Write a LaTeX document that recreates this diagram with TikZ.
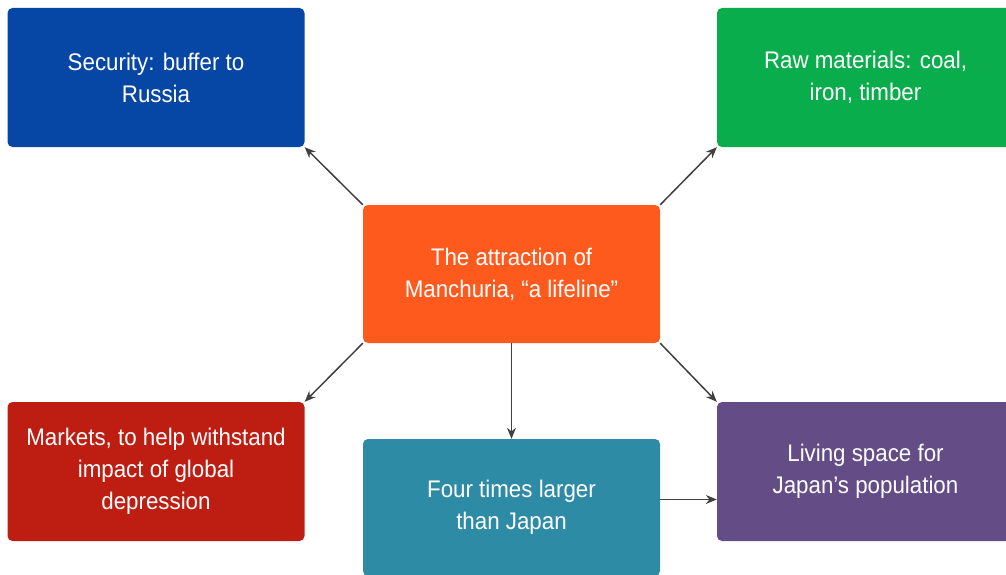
\documentclass[tikz,border=0pt]{standalone}
\usepackage{fontspec}
\setmainfont{Liberation Sans}[FakeStretch=0.93]
\usetikzlibrary{arrows.meta}

\begin{document}
\begin{tikzpicture}[x=1pt,y=-1pt,
  topic/.style={rounded corners=5pt,minimum width=297pt,minimum height=139pt,
    align=center,text=white,font=\fontsize{24}{32}\selectfont},
  link/.style={draw=linkgray,line width=1.5pt,-{Stealth[length=11pt,width=9pt]}}]
% Define topic colours
\definecolor{security}{RGB}{6,70,165}
\definecolor{material}{RGB}{9,173,76}
\definecolor{centre}{RGB}{255,90,30}
\definecolor{market}{RGB}{190,30,18}
\definecolor{size}{RGB}{46,139,165}
\definecolor{living}{RGB}{100,77,135}
\definecolor{linkgray}{RGB}{64,64,64}

\useasboundingbox (0,0) rectangle (1006,575);

% Draw topics
\node[topic,fill=centre,minimum height=138pt] (attract) at (511.5,274) {The attraction of\\Manchuria, ``a lifeline''};
\node[topic,fill=security] (buffer) at (156,77.5) {Security: buffer to\\Russia};
\node[topic,fill=material] (raw) at (865.5,77.5) {Raw materials: coal,\\iron, timber};
\node[topic,fill=market] (markets) at (156,471.5) {Markets, to help withstand\\impact of global\\depression};
\node[topic,fill=size,minimum height=137pt] (larger) at (511.5,507.5) {Four times larger\\than Japan};
\node[topic,fill=living] (space) at (865.5,471.5) {Living space for\\Japan's population};

% Draw links
\draw[link] (attract.north west) -- (buffer.south east);
\draw[link] (attract.north east) -- (raw.south west);
\draw[link] (attract.south west) -- (markets.north east);
\draw[link] (attract.south east) -- (space.north west);
\draw[link] (attract.south) -- (larger.north);
\draw[link] ([yshift=8pt]larger.east) -- ([yshift=8pt]larger.east -| space.west);
\end{tikzpicture}
\end{document}
